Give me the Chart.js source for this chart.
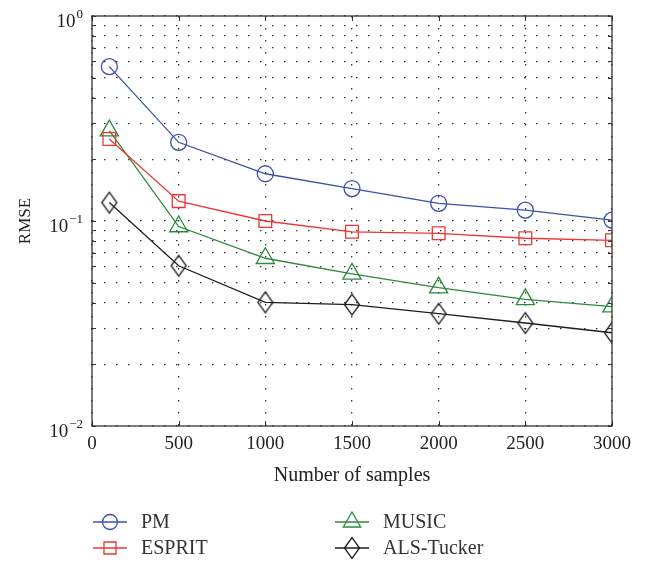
<!DOCTYPE html>
<html>
<head>
<meta charset="utf-8">
<script src="https://cdn.jsdelivr.net/npm/chart.js"></script>
<style>
  body { margin: 0; background: #fff; }
  #wrap { width: 649px; height: 562px; }
</style>
</head>
<body>
<div id="wrap"><canvas id="myChart" width="649" height="562"></canvas></div>
<script>
// values
var samples = [100, 500, 1000, 1500, 2000, 2500, 3000];
var pm = [0.566, 0.242, 0.170, 0.144, 0.122, 0.113, 0.101];
var esprit = [0.251, 0.125, 0.100, 0.0886, 0.0871, 0.0824, 0.0805];
var music = [0.276, 0.094, 0.0658, 0.0552, 0.0473, 0.0415, 0.0382];
var alsTucker = [0.123, 0.0605, 0.0401, 0.0391, 0.0353, 0.0318, 0.0285];

var xTicks = [0, 500, 1000, 1500, 2000, 2500, 3000];
var yGrid = [0.01, 0.02, 0.03, 0.04, 0.05, 0.06, 0.07, 0.08, 0.09,
             0.1, 0.2, 0.3, 0.4, 0.5, 0.6, 0.7, 0.8, 0.9, 1];
var yLabelValues = [0.01, 0.1, 1];
var yLabelExps = ['\u22122', '\u22121', '0'];

var serif = "'Liberation Serif', 'Times New Roman', serif";

// tall matlab style diamond
function makeDiamond(color) {
    var c = document.createElement('canvas');
    c.width = 18; c.height = 24;
    var g = c.getContext('2d');
    g.strokeStyle = color;
    g.lineWidth = 1.3;
    g.beginPath();
    g.moveTo(1.5, 12);
    g.lineTo(9, 1.5);
    g.lineTo(16.5, 12);
    g.lineTo(9, 22.5);
    g.closePath();
    g.stroke();
    return c;
}

function pts(arr) {
    var out = [];
    for (var i = 0; i < samples.length; i++) {
        out.push({ x: samples[i], y: arr[i] });
    }
    return out;
}

function makeSet(label, arr, color, style, radius) {
    return {
        label: label,
        data: pts(arr),
        borderColor: color,
        backgroundColor: 'rgba(0,0,0,0)',
        borderWidth: 1.3,
        pointStyle: style,
        pointRadius: radius,
        pointHoverRadius: radius,
        pointBorderColor: color,
        pointBackgroundColor: 'rgba(0,0,0,0)',
        pointBorderWidth: 1.3,
        tension: 0
    };
}

var datasets = [
    makeSet('PM', pm, '#3c50a6', 'circle', 8),
    makeSet('ESPRIT', esprit, '#ee3636', 'rect', 9),
    makeSet('MUSIC', music, '#2c8a3c', 'triangle', 10.5),
    makeSet('ALS-Tucker', alsTucker, '#1e1e1e', makeDiamond('#1e1e1e'), 9)
];

// legend layout (two columns)
var legendPos = [
    { x: 110, y: 522 },
    { x: 110, y: 548 },
    { x: 352, y: 522 },
    { x: 352, y: 548 }
];

var boxPlugin = {
    id: 'boxPlugin',
    afterDraw: function (chart) {
        var ctx = chart.ctx;
        var a = chart.chartArea;
        var xs = chart.scales.x;
        var ys = chart.scales.y;
        ctx.save();

        // axes box
        ctx.strokeStyle = '#333';
        ctx.lineWidth = 1.3;
        ctx.strokeRect(a.left, a.top, a.right - a.left, a.bottom - a.top);

        // inner tick marks
        ctx.lineWidth = 1;
        ctx.beginPath();
        for (var i = 0; i < yGrid.length; i++) {
            var py = Math.round(ys.getPixelForValue(yGrid[i])) + 0.5;
            ctx.moveTo(a.left, py); ctx.lineTo(a.left + 4, py);
            ctx.moveTo(a.right, py); ctx.lineTo(a.right - 4, py);
        }
        for (var j = 0; j < xTicks.length; j++) {
            var px = Math.round(xs.getPixelForValue(xTicks[j])) + 0.5;
            ctx.moveTo(px, a.bottom); ctx.lineTo(px, a.bottom - 5);
            ctx.moveTo(px, a.top); ctx.lineTo(px, a.top + 5);
        }
        ctx.stroke();

        // y tick labels 10^k
        ctx.fillStyle = '#222';
        ctx.textAlign = 'right';
        ctx.textBaseline = 'alphabetic';
        for (var k = 0; k < yLabelValues.length; k++) {
            var yy = ys.getPixelForValue(yLabelValues[k]);
            ctx.font = '13px ' + serif;
            var w = ctx.measureText(yLabelExps[k]).width;
            ctx.fillText(yLabelExps[k], 83, yy + 1.5);
            ctx.font = '19px ' + serif;
            ctx.fillText('10', 83 - w - 1, yy + 11);
        }

        // legend
        ctx.font = '20px ' + serif;
        ctx.textAlign = 'left';
        ctx.textBaseline = 'middle';
        chart.data.datasets.forEach(function (ds, n) {
            var p = legendPos[n];
            ctx.strokeStyle = ds.borderColor;
            ctx.lineWidth = 1.3;
            ctx.beginPath();
            ctx.moveTo(p.x - 17, p.y);
            ctx.lineTo(p.x + 17, p.y);
            ctx.stroke();
            ctx.fillStyle = 'rgba(0,0,0,0)';
            Chart.helpers.drawPoint(ctx, {
                pointStyle: ds.pointStyle,
                radius: ds.pointRadius - 0.5,
                borderWidth: 1.3,
                rotation: 0
            }, p.x, p.y);
            ctx.fillStyle = '#333';
            ctx.fillText(ds.label, p.x + 31, p.y + 1);
        });

        ctx.restore();
    }
};

var ctx = document.getElementById('myChart').getContext('2d');
var myChart = new Chart(ctx, {
    type: 'line',
    data: { datasets: datasets },
    options: {
        responsive: false,
        animation: false,
        layout: { padding: { left: 0, top: 16, right: 37, bottom: 72 } },
        plugins: {
            legend: { display: false },
            tooltip: { enabled: false }
        },
        scales: {
            x: {
                type: 'linear',
                min: 0,
                max: 3000,
                afterBuildTicks: function (s) {
                    s.ticks = xTicks.map(function (v) { return { value: v }; });
                },
                afterFit: function (s) { s.height = 64; },
                ticks: {
                    color: '#222',
                    font: { family: serif, size: 19 },
                    padding: 7,
                    maxRotation: 0,
                    autoSkip: false,
                    callback: function (v) { return String(v); }
                },
                grid: {
                    color: 'rgba(30,30,30,0.9)',
                    lineWidth: 1.3,
                    drawTicks: false
                },
                border: { display: false, dash: [1.5, 10.5] },
                title: {
                    display: true,
                    text: 'Number of samples',
                    color: '#222',
                    font: { family: serif, size: 20 },
                    padding: { top: 0, bottom: 2 }
                }
            },
            y: {
                type: 'logarithmic',
                min: 0.01,
                max: 1,
                afterBuildTicks: function (s) {
                    s.ticks = yGrid.map(function (v) { return { value: v }; });
                },
                afterFit: function (s) { s.width = 92; },
                ticks: { display: false },
                grid: {
                    color: 'rgba(30,30,30,0.9)',
                    lineWidth: 1.3,
                    drawTicks: false
                },
                border: { display: false, dash: [1.5, 10.5] },
                title: {
                    display: true,
                    text: 'RMSE',
                    color: '#222',
                    font: { family: serif, size: 17 },
                    padding: { top: 15, bottom: 0 }
                }
            }
        }
    },
    plugins: [boxPlugin]
});
</script>
</body>
</html>
